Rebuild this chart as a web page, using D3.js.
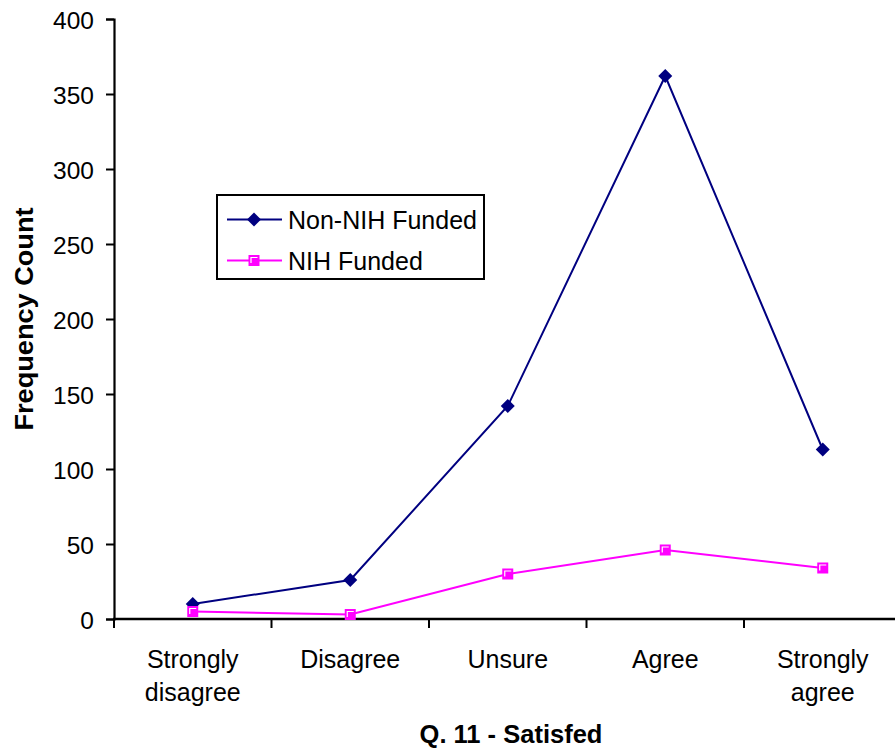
<!DOCTYPE html>
<html>
<head>
<meta charset="utf-8">
<script src="https://cdn.jsdelivr.net/npm/d3@7"></script>
<style>
  html, body { margin: 0; padding: 0; background: #fff; }
  svg { display: block; font-family: "Liberation Sans", Arial, sans-serif; }
</style>
</head>
<body>
<svg id="chart" width="895" height="750"></svg>
<script>
const categories = ["Strongly disagree", "Disagree", "Unsure", "Agree", "Strongly agree"];
const categoryLines = [["Strongly", "disagree"], ["Disagree"], ["Unsure"], ["Agree"], ["Strongly", "agree"]];
const nonNihFunded = [10, 26, 142, 362, 113];
const nihFunded = [5, 3, 30, 46, 34];
const yTicks = [0, 50, 100, 150, 200, 250, 300, 350, 400];
const seriesNames = ["Non-NIH Funded", "NIH Funded"];
const xTitle = "Q. 11 - Satisfed";
const yTitle = "Frequency Count";

const svg = d3.select("#chart");
const navy = "#000080", pink = "#FF00FF";

const x = d3.scaleBand().domain(categories).range([114, 901.5]).padding(0);
const y = d3.scaleLinear().domain([0, 400]).range([619, 19]);
const cx = c => x(c) + x.bandwidth() / 2;

// Y axis
const yAxis = svg.append("g").attr("transform", "translate(114,0)")
  .call(d3.axisLeft(y).tickValues(yTicks).tickSize(8).tickPadding(12));
yAxis.select(".domain").attr("stroke", "#000").attr("stroke-width", 2.2);
yAxis.selectAll(".tick line").attr("stroke", "#000").attr("stroke-width", 2);
yAxis.selectAll(".tick text").attr("font-size", 24.5).attr("fill", "#000")
  .attr("font-family", "'Liberation Sans', Arial, sans-serif").attr("dy", "0.38em");

// X axis line and ticks at band edges
svg.append("line").attr("x1", 113).attr("x2", 895).attr("y1", y(0)).attr("y2", y(0))
  .attr("stroke", "#000").attr("stroke-width", 2.5);
svg.append("g").selectAll("line").data(categories).join("line")
  .attr("x1", d => x(d)).attr("x2", d => x(d))
  .attr("y1", y(0)).attr("y2", y(0) + 9)
  .attr("stroke", "#000").attr("stroke-width", 2);

// X category labels
const xl = svg.append("g").selectAll("text").data(categories).join("text")
  .attr("x", d => cx(d)).attr("text-anchor", "middle")
  .attr("font-size", 25).attr("fill", "#000");
xl.each(function(d, i) {
  const t = d3.select(this);
  categoryLines[i].forEach((ln, j) => {
    t.append("tspan").attr("x", cx(d)).attr("y", 668 + j * 33).text(ln);
  });
});

// Titles
svg.append("text").attr("x", 511).attr("y", 743).attr("text-anchor", "middle")
  .attr("font-size", 25.5).attr("font-weight", "bold").text(xTitle);
svg.append("text").attr("transform", "translate(33,319) rotate(-90)")
  .attr("text-anchor", "middle").attr("font-size", 25).attr("font-weight", "bold")
  .attr("textLength", 223).attr("lengthAdjust", "spacingAndGlyphs").text(yTitle);

// Lines
const line = d3.line().x((d, i) => cx(categories[i])).y(d => y(d));
svg.append("path").datum(nonNihFunded).attr("d", line)
  .attr("fill", "none").attr("stroke", navy).attr("stroke-width", 2);
svg.append("path").datum(nihFunded).attr("d", line)
  .attr("fill", "none").attr("stroke", pink).attr("stroke-width", 2);

function diamond(g, px, py) {
  g.append("path").attr("d", `M${px},${py - 7}L${px + 7},${py}L${px},${py + 7}L${px - 7},${py}Z`)
    .attr("fill", navy);
}
function square(g, px, py) {
  g.append("rect").attr("x", px - 5.5).attr("y", py - 5.5).attr("width", 11).attr("height", 11)
    .attr("fill", pink);
  g.append("path").attr("d", `M${px - 3},${py + 2.5}L${px - 3},${py - 3}L${px + 3.5},${py - 3}`)
    .attr("fill", "none").attr("stroke", "#fff").attr("stroke-width", 1.2);
}

const mk = svg.append("g");
nonNihFunded.forEach((v, i) => diamond(mk, cx(categories[i]), y(v)));
nihFunded.forEach((v, i) => square(mk, cx(categories[i]), y(v)));

// Legend
const lg = svg.append("g");
lg.append("rect").attr("x", 217).attr("y", 195).attr("width", 267).attr("height", 84)
  .attr("fill", "#fff").attr("stroke", "#000").attr("stroke-width", 2);
const rows = [{ name: seriesNames[0], color: navy, yy: 219.5, m: diamond },
              { name: seriesNames[1], color: pink, yy: 260.5, m: square }];
rows.forEach(r => {
  lg.append("line").attr("x1", 227).attr("x2", 282).attr("y1", r.yy).attr("y2", r.yy)
    .attr("stroke", r.color).attr("stroke-width", 2);
  r.m(lg, 254, r.yy);
  lg.append("text").attr("x", 288).attr("y", r.yy).attr("dy", "0.36em")
    .attr("font-size", 25).attr("fill", "#000").text(r.name);
});
</script>
</body>
</html>
